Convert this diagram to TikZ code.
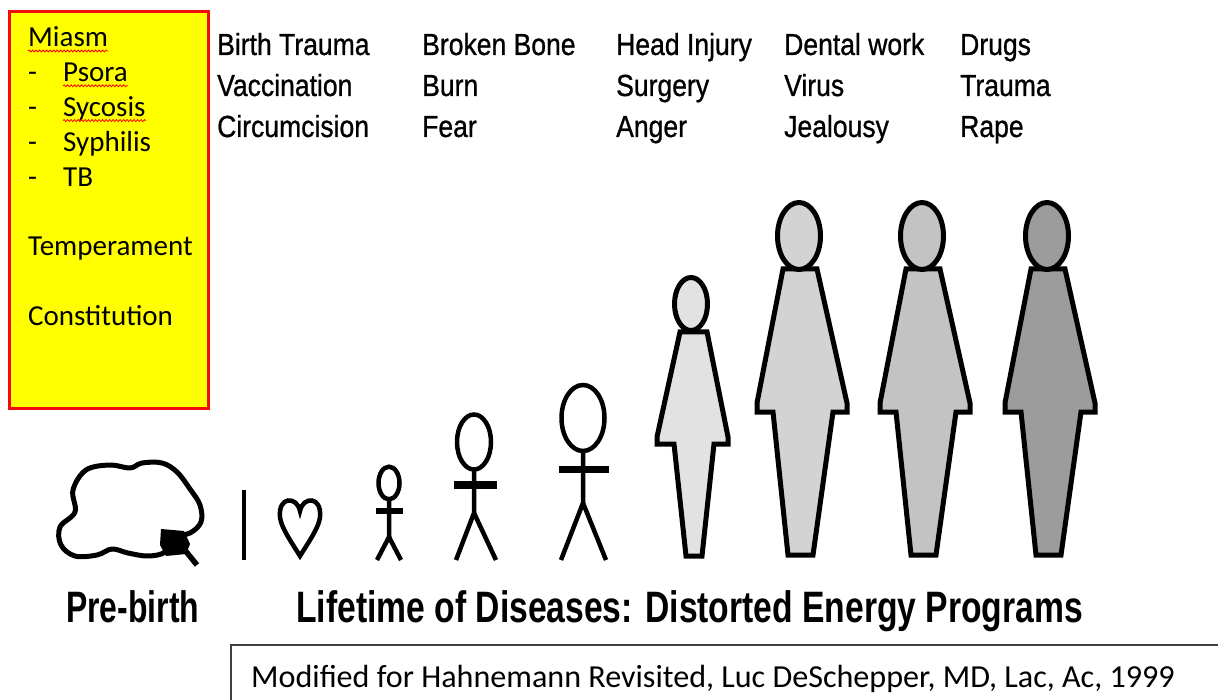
\documentclass[tikz,border=0pt]{standalone}
\usepackage{fontspec}
\usepackage{graphicx}
\setmainfont{Carlito}
\newfontfamily\labelfont{Liberation Sans}
\newfontfamily\listfont[FakeBold=0.9]{Liberation Sans}
\usetikzlibrary{decorations.pathmorphing}

\definecolor{boxred}{HTML}{F20D0D}
\definecolor{boxyellow}{HTML}{FFFF00}
\definecolor{frameGray}{HTML}{404040}
\definecolor{shadeA}{HTML}{E2E2E2}
\definecolor{shadeB}{HTML}{D3D3D3}
\definecolor{shadeC}{HTML}{C3C3C3}
\definecolor{shadeD}{HTML}{9C9C9C}

\tikzset{
  boxtext/.style={anchor=base west, inner sep=0pt, font=\fontsize{29}{34}\selectfont},
  toptext/.style={anchor=base west, inner sep=0pt},
  bigtext/.style={anchor=base west, inner sep=0pt},
  squiggle/.style={red, line width=0.8pt, decorate,
    decoration={snake, amplitude=1pt, segment length=3.5pt}},
  stick/.style={line width=4.5pt, line cap=butt},
  outline/.style={line width=5pt, line join=miter},
}

% one row of the top list, condensed sans
\newcommand{\toplab}[1]{\scalebox{0.87}[1]{\listfont\fontsize{30.5}{36}\selectfont #1}}
% large condensed bold caption
\newcommand{\biglab}[2]{\scalebox{#1}[1]{\labelfont\bfseries\fontsize{44}{50}\selectfont #2}}

% silhouette: body outline, offset in x
\newcommand{\tallbody}[2]{%
  \draw[outline, fill=#2, xshift=#1pt]
    (783,269) -- (757,403) -- (757,412) -- (773,412) -- (788,555)
    -- (813,555) -- (833,412) -- (847,412) -- (847,403) -- (817,269) -- cycle;
  \draw[outline, fill=#2, xshift=#1pt]
    (799,236) ellipse [x radius=21.5, y radius=33.5];
}

\begin{document}
\begin{tikzpicture}[x=1pt, y=-1pt]
\useasboundingbox (0,0) rectangle (1218,700);
\fill[white] (0,0) rectangle (1218,700);

% ---------- yellow panel ----------
\fill[boxyellow] (11,13) rectangle (207,407);
\draw[boxred, line width=3pt] (9.5,11.5) rectangle (208.5,408.5);

\node[boxtext] (miasm) at (28,47) {Miasm};
\node[boxtext] (d1) at (28,81.8) {-};
\node[boxtext] (psora) at (63,81.8) {Psora};
\node[boxtext] (d2) at (28,116.6) {-};
\node[boxtext] (sycosis) at (63,116.6) {Sycosis};
\node[boxtext] (d3) at (28,151.4) {-};
\node[boxtext] (syphilis) at (63,151.4) {Syphilis};
\node[boxtext] (d4) at (28,186.2) {-};
\node[boxtext] (tb) at (63,186.2) {TB};
\node[boxtext] (temper) at (28,255.8) {Temperament};
\node[boxtext] (constit) at (28,325.4) {Constitution};

\draw[squiggle] ([yshift=-4pt]miasm.base west) -- ([yshift=-4pt]miasm.base east);
\draw[squiggle] ([yshift=-4pt]psora.base west) -- ([yshift=-4pt]psora.base east);
\draw[squiggle] ([yshift=-4pt]sycosis.base west) -- ([yshift=-4pt]sycosis.base east);

% ---------- top list ----------
\node[toptext] (a1) at (217,55) {\toplab{Birth Trauma}};
\node[toptext] (a2) at (217,96) {\toplab{Vaccination}};
\node[toptext] (a3) at (217,137) {\toplab{Circumcision}};
\node[toptext] (b1) at (422,55) {\toplab{Broken Bone}};
\node[toptext] (b2) at (422,96) {\toplab{Burn}};
\node[toptext] (b3) at (422,137) {\toplab{Fear}};
\node[toptext] (c1) at (616,55) {\toplab{Head Injury}};
\node[toptext] (c2) at (616,96) {\toplab{Surgery}};
\node[toptext] (c3) at (616,137) {\toplab{Anger}};
\node[toptext] (e1) at (784,55) {\toplab{Dental work}};
\node[toptext] (e2) at (784,96) {\toplab{Virus}};
\node[toptext] (e3) at (784,137) {\toplab{Jealousy}};
\node[toptext] (f1) at (960,55) {\toplab{Drugs}};
\node[toptext] (f2) at (960,96) {\toplab{Trauma}};
\node[toptext] (f3) at (960,137) {\toplab{Rape}};

% ---------- cloud ----------
\draw[line width=5pt, line join=round]
  plot[smooth cycle, tension=0.6] coordinates {
    (75,512) (73,490) (86,470) (110,465) (130,468) (142,463) (162,463)
    (177,472) (190,489) (200,505) (201,522) (190,533) (172,538)
    (165,552) (148,556) (128,553) (112,549) (97,555) (75,556) (61,545) (60,527)};
\fill (161,529) -- (184,531) -- (190,544) -- (186,554) -- (166,556) -- (160,545) -- cycle;
\draw[line width=5.5pt] (184,549) -- (197,565);

% ---------- bar and heart ----------
\draw[line width=4.5pt] (244,490) -- (244,560);
\draw[line width=4.5pt, line join=miter]
  (300,511) .. controls (297,496) and (278,496) .. (280,517)
  .. controls (281,527) and (290,540) .. (300,556)
  .. controls (310,540) and (319,527) .. (320,517)
  .. controls (322,496) and (303,496) .. (300,511) -- cycle;

% ---------- stick figures ----------
% small
\draw[stick] (389,483) ellipse [x radius=10.5, y radius=16.3];
\draw[stick] (389,501) -- (389,537) -- (377,560);
\draw[stick] (389,537) -- (401,560);
\draw[line width=6pt] (376,511) -- (403,511);
% medium
\draw[stick] (474,442) ellipse [x radius=17, y radius=27.5];
\draw[stick] (474,471) -- (474,513) -- (456,560);
\draw[stick] (474,513) -- (496,560);
\draw[line width=7.5pt] (454,485) -- (497,485);
% large
\draw[stick] (583,418) ellipse [x radius=21.5, y radius=33];
\draw[stick] (583,452) -- (583,503) -- (561,560);
\draw[stick] (583,503) -- (606,560);
\draw[line width=7pt] (559,469.5) -- (609,469.5);

% ---------- silhouettes ----------
\draw[outline, fill=shadeA]
  (680,332) -- (657,437) -- (657,444) -- (674,444) -- (686,556)
  -- (702,556) -- (714,444) -- (728,444) -- (728,437) -- (707,332) -- cycle;
\draw[outline, fill=shadeA] (691,304) ellipse [x radius=16.5, y radius=26.5];

\tallbody{0}{shadeB}
\tallbody{123}{shadeC}
\tallbody{248}{shadeD}

% ---------- captions ----------
\node[bigtext] (pre) at (66,622) {\biglab{0.725}{Pre-birth}};
\node[bigtext] (life) at (296,622) {\biglab{0.765}{Lifetime of Diseases: Distorted Energy Programs}};

% ---------- credit box ----------
\draw[frameGray, line width=1.5pt] (1230,645) -- (231,645) -- (231,712);
\node[anchor=base west, inner sep=0pt, font=\fontsize{32.1}{38}\selectfont] (credit) at (251,687)
  {Modified for Hahnemann Revisited, Luc DeSchepper, MD, Lac, Ac, 1999};
\end{tikzpicture}
\end{document}
